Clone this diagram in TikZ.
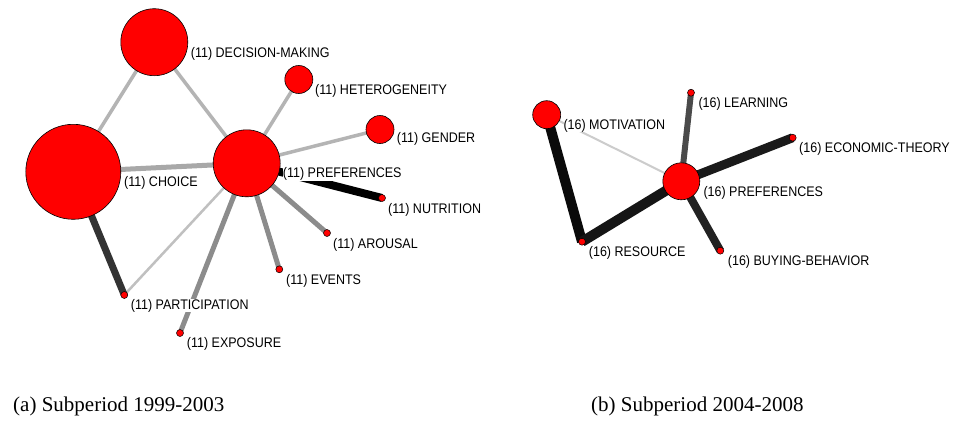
\documentclass[tikz,border=0pt]{standalone}
\usepackage{fontspec}
\setmainfont{Liberation Serif}
\newfontfamily\labelfont[FakeStretch=0.9]{Liberation Sans}
\usetikzlibrary{backgrounds}

\begin{document}
\begin{tikzpicture}[x=1pt,y=-1pt,
  hub/.style={circle,draw=black,line width=0.6pt,fill=red,inner sep=0pt,minimum size=#1},
  leaf/.style={circle,draw=black,line width=0.5pt,fill=red,inner sep=0pt,minimum size=7pt},
  lbl/.style={anchor=base west,inner sep=0pt,fill=white,font=\labelfont\fontsize{13.9}{15}\selectfont},
  captxt/.style={anchor=base west,inner sep=0pt,font=\fontsize{21}{24}\selectfont},
  link/.style={line width=#1},
]
\useasboundingbox (0,0) rectangle (953,421);

% ---------- network (a) ----------
\node[hub=67pt] (dm)   at (154.3,42.2) {};
\node[hub=95pt] (cho)  at (73.3,171.8) {};
\node[hub=67pt] (pra)  at (246.7,163.3) {};
\node[hub=28pt] (het)  at (298.8,79.5) {};
\node[hub=28pt] (gen)  at (380,129.5) {};
\node[leaf] (nut)  at (382,198) {};
\node[leaf] (aro)  at (327,233) {};
\node[leaf] (eve)  at (279.3,269.3) {};
\node[leaf] (par)  at (124.3,295) {};
\node[leaf] (exp)  at (180,333) {};

% ---------- network (b) ----------
\node[hub=28pt] (mot)  at (546.7,114.7) {};
\node[hub=37pt] (prb)  at (681.3,181.3) {};
\node[leaf] (lea)  at (691,92.7) {};
\node[leaf] (eco)  at (792.7,137.7) {};
\node[leaf] (res)  at (582,241.7) {};
\node[leaf] (buy)  at (720.3,250.7) {};

\begin{scope}[on background layer]
  \fill[white] (0,0) rectangle (953,421);
  % links of (a)
  \draw[link=3.5pt,color={rgb,255:red,180;green,180;blue,180}] (dm.center) -- (cho.center);
  \draw[link=3.5pt,color={rgb,255:red,180;green,180;blue,180}] (dm.center) -- (pra.center);
  \draw[link=3.5pt,color={rgb,255:red,180;green,180;blue,180}] (pra.center) -- (het.center);
  \draw[link=3.5pt,color={rgb,255:red,180;green,180;blue,180}] (pra.center) -- (gen.center);
  \draw[link=5pt,color={rgb,255:red,168;green,168;blue,168}] (cho.center) -- (pra.center);
  \draw[link=2.5pt,color={rgb,255:red,192;green,192;blue,192}] (pra.center) -- (par.center);
  \draw[link=5pt,color={rgb,255:red,140;green,140;blue,140}] (pra.center) -- (exp.center);
  \draw[link=5pt,color={rgb,255:red,140;green,140;blue,140}] (pra.center) -- (eve.center);
  \draw[link=5pt,color={rgb,255:red,140;green,140;blue,140}] (pra.center) -- (aro.center);
  \draw[link=7pt,color={rgb,255:red,51;green,51;blue,51}] (cho.center) -- (par.center);
  \draw[link=8pt,color=black] (pra.center) -- (nut.center);
  % links of (b)
  \draw[link=10pt,color={rgb,255:red,10;green,10;blue,10}] (mot.center) -- (res.center);
  \draw[link=10pt,color={rgb,255:red,21;green,21;blue,21}] (res.center) -- (prb.center);
  \draw[link=9pt,color={rgb,255:red,26;green,26;blue,26}] (prb.center) -- (eco.center);
  \draw[link=8pt,color={rgb,255:red,34;green,34;blue,34}] (prb.center) -- (buy.center);
  \draw[link=6pt,color={rgb,255:red,74;green,74;blue,74}] (prb.center) -- (lea.center);
  \draw[link=2pt,color={rgb,255:red,204;green,204;blue,204}] (mot.center) -- (prb.center);
\end{scope}

% ---------- labels (a) ----------
\node[lbl] (ldm)  at (190.7,57) {(11) DECISION-MAKING};
\node[lbl] (lhet) at (315,94.3) {(11) HETEROGENEITY};
\node[lbl] (lgen) at (396.7,142.7) {(11) GENDER};
\node[lbl] (lcho) at (124,186.7) {(11) CHOICE};
\node[lbl] (lpra) at (282.7,177.7) {(11) PREFERENCES};
\node[lbl] (lnut) at (388,213.3) {(11) NUTRITION};
\node[lbl] (laro) at (333,248.3) {(11) AROUSAL};
\node[lbl] (leve) at (286,284.3) {(11) EVENTS};
\node[lbl] (lpar) at (130.7,309.3) {(11) PARTICIPATION};
\node[lbl] (lexp) at (186.7,347.3) {(11) EXPOSURE};

% ---------- labels (b) ----------
\node[lbl] (llea) at (698.3,107.7) {(16) LEARNING};
\node[lbl] (lmot) at (563.3,129.3) {(16) MOTIVATION};
\node[lbl] (leco) at (799,152.7) {(16) ECONOMIC-THEORY};
\node[lbl] (lprb) at (703.3,196) {(16) PREFERENCES};
\node[lbl] (lres) at (588.7,256) {(16) RESOURCE};
\node[lbl] (lbuy) at (727.7,265) {(16) BUYING-BEHAVIOR};

% ---------- captions ----------
\node[captxt] (capa) at (13,411.7) {(a) Subperiod 1999-2003};
\node[captxt] (capb) at (591,411.7) {(b) Subperiod 2004-2008};
\end{tikzpicture}
\end{document}
